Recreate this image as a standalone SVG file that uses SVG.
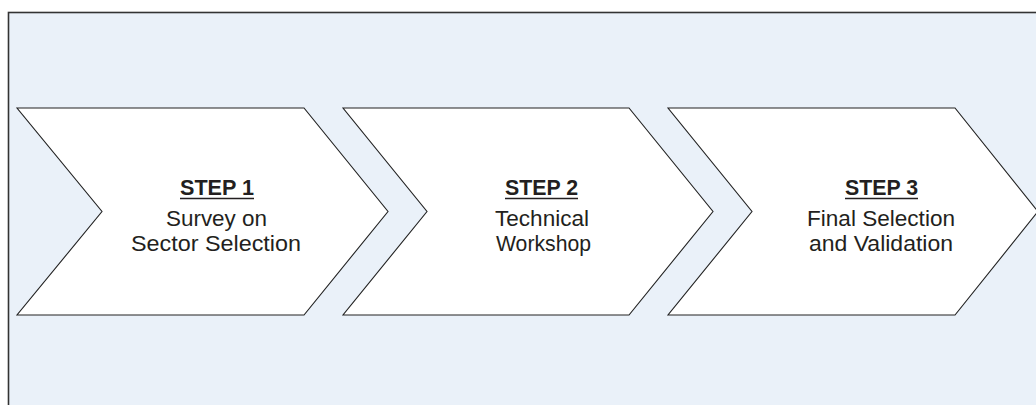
<svg xmlns="http://www.w3.org/2000/svg" width="1036" height="405" viewBox="0 0 1036 405">
<style>
.bg{fill:#eaf1f9;stroke:#333;stroke-width:1.6}
.chev{fill:#fff;stroke:#222;stroke-width:1.1;stroke-linejoin:miter}
.h{font-family:"Liberation Sans",Arial,sans-serif;font-weight:bold;font-size:22px;fill:#231f20;text-anchor:middle}
.t{font-family:"Liberation Sans",Arial,sans-serif;font-size:22px;fill:#231f20;text-anchor:middle}
.ul{stroke:#231f20;stroke-width:1.5}
</style>
<rect class="bg" x="8.5" y="12.5" width="1040" height="400"/>
<g id="connectors"></g>
<g id="step1">
<polygon class="chev" points="17,108 304,108 388,211.5 304,315 17,315 102,211.5"/>
<text class="h" x="217" y="195" textLength="74" lengthAdjust="spacingAndGlyphs">STEP 1</text>
<line class="ul" x1="180" y1="198.5" x2="254" y2="198.5"/>
<text class="t" x="216.5" y="226" textLength="101" lengthAdjust="spacingAndGlyphs">Survey on</text>
<text class="t" x="216" y="250.5" textLength="170" lengthAdjust="spacingAndGlyphs">Sector Selection</text>
</g>
<g id="step2">
<polygon class="chev" points="343,108 629,108 713,211.5 629,315 343,315 427,211.5"/>
<text class="h" x="541.5" y="195" textLength="73" lengthAdjust="spacingAndGlyphs">STEP 2</text>
<line class="ul" x1="505" y1="198.5" x2="578" y2="198.5"/>
<text class="t" x="542" y="226" textLength="94" lengthAdjust="spacingAndGlyphs">Technical</text>
<text class="t" x="543.5" y="250.5" textLength="95" lengthAdjust="spacingAndGlyphs">Workshop</text>
</g>
<g id="step3">
<polygon class="chev" points="668,108 955,108 1038,211.5 955,315 668,315 752,211.5"/>
<text class="h" x="881.5" y="195" textLength="73" lengthAdjust="spacingAndGlyphs">STEP 3</text>
<line class="ul" x1="845" y1="198.5" x2="918" y2="198.5"/>
<text class="t" x="881" y="226" textLength="148" lengthAdjust="spacingAndGlyphs">Final Selection</text>
<text class="t" x="881" y="250.5" textLength="144" lengthAdjust="spacingAndGlyphs">and Validation</text>
</g>
</svg>
